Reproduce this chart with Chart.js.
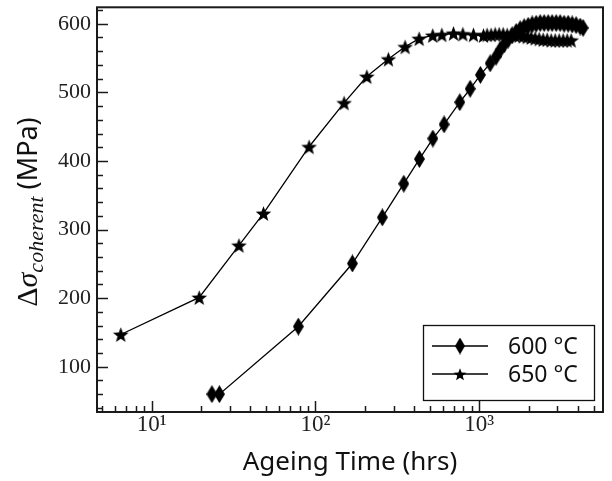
<!DOCTYPE html>
<html><head><meta charset="utf-8">
<script src="https://cdn.jsdelivr.net/npm/chart.js@4/dist/chart.umd.min.js"></script>
<style>html,body{margin:0;padding:0;background:#fff;}#wrap{width:612px;height:481px;}</style>
</head><body><div id="wrap"><canvas id="c" width="612" height="481"></canvas></div>
<script>
// ---- data ----
const seriesLabels = ['600 °C', '650 °C'];
const time600 = [23.3, 25.9, 78.6, 168, 256, 346, 431, 521, 610, 761, 880, 1017, 1166, 1268, 1342, 1420, 1502, 1589, 1681, 1778, 1881, 1990, 2104, 2226, 2355, 2491, 2635, 2787, 2949, 3119, 3299, 3491, 3693, 3906, 4133, 4310];
const stress600 = [60, 60, 158.6, 250.5, 317.7, 366.8, 402.8, 432.7, 453.3, 485.6, 505.2, 525.4, 542.3, 552, 562, 570, 577, 583, 588, 592, 595, 597, 599, 600, 601, 601, 601, 601, 601, 601, 600, 600, 599, 598, 596, 594];
const time650 = [6.47, 19.5, 34.1, 48.1, 91.4, 149.5, 205.8, 278.9, 352.6, 429.5, 520, 591, 696, 794, 922, 1061, 1117, 1182, 1251, 1323, 1400, 1481, 1566, 1657, 1753, 1854, 1962, 2075, 2195, 2322, 2457, 2599, 2749, 2908, 3076, 3254, 3443, 3642];
const stress650 = [147, 201, 277, 323.5, 420.7, 484.6, 523.1, 548.5, 566.4, 578.4, 583, 584, 586, 585, 584, 583, 584, 584, 585, 585, 585, 584, 584, 583, 583, 582, 581, 580, 579, 578, 577, 577, 576, 576, 576, 576, 576, 576];
const yTickValues = [100, 200, 300, 400, 500, 600];
const xTickValues = [10, 100, 1000];
const xTickLabels = ['10¹', '10²', '10³'];
const xLabel = 'Ageing Time (hrs)';
const yLabelMain = ['Δ', 'σ'];
const yLabelSub = 'coherent';
const yLabelUnit = '(MPa)';

// ---- marker images ----
function diamondImg(w, h) {
  const c = document.createElement('canvas'); c.width = w; c.height = h;
  const g = c.getContext('2d'); g.fillStyle = '#000';
  g.beginPath(); g.moveTo(w/2, 0); g.lineTo(w, h/2); g.lineTo(w/2, h); g.lineTo(0, h/2); g.closePath(); g.fill();
  return c;
}
function starImg(s) {
  const c = document.createElement('canvas'); c.width = s; c.height = s;
  const g = c.getContext('2d'); g.fillStyle = '#000';
  const R = s/2 - 0.3, r = R * 0.42, cx = s/2, cy = s/2 + 0.9;
  g.beginPath();
  for (let i = 0; i < 10; i++) {
    const a = -Math.PI/2 + i * Math.PI/5, rr = i % 2 ? r : R;
    const px = cx + rr * Math.cos(a), py = cy + rr * Math.sin(a);
    i ? g.lineTo(px, py) : g.moveTo(px, py);
  }
  g.closePath(); g.fill();
  return c;
}
const diamond = diamondImg(11, 18);
const star = starImg(17);
const legDiamond = diamondImg(10, 17);
const legStar = starImg(14);

const tickFont = { family: '"Liberation Serif", serif', size: 22 };

const overlay = {
  id: 'overlay',
  afterDatasetsDraw(chart) {
    const { ctx, chartArea: a, scales: { x, y } } = chart;
    ctx.save();
    ctx.strokeStyle = '#1a1a1a';
    ctx.lineWidth = 1.5;
    // inward y ticks
    for (let v = Math.ceil(y.min / 20) * 20; v <= y.max; v += 20) {
      const py = Math.round(y.getPixelForValue(v)) + 0.5;
      const len = yTickValues.includes(v) ? 11 : 6;
      ctx.beginPath(); ctx.moveTo(a.left, py); ctx.lineTo(a.left + len, py); ctx.stroke();
    }
    // inward x ticks (log)
    for (let d = 1; d <= 1000; d *= 10) {
      for (let m = 1; m <= 9; m++) {
        const v = m * d;
        if (v < x.min || v > x.max) continue;
        const px = Math.round(x.getPixelForValue(v)) + 0.5;
        const len = m === 1 ? 11 : 6;
        ctx.beginPath(); ctx.moveTo(px, a.bottom); ctx.lineTo(px, a.bottom - len); ctx.stroke();
      }
    }
    // frame
    ctx.lineWidth = 2;
    ctx.strokeRect(a.left, a.top, a.right - a.left, a.bottom - a.top);

    // legend
    const bx = 423.5, by = 325.5, bw = 171, bh = 75;
    ctx.fillStyle = '#fff'; ctx.fillRect(bx, by, bw, bh);
    ctx.lineWidth = 1.3; ctx.strokeStyle = '#111'; ctx.strokeRect(bx, by, bw, bh);
    const rows = [346, 374];
    const imgs = [legDiamond, legStar];
    ctx.font = '23px "Noto Sans", sans-serif';
    ctx.textBaseline = 'alphabetic'; ctx.textAlign = 'left';
    rows.forEach((ry, i) => {
      ctx.strokeStyle = '#000'; ctx.lineWidth = 1.3;
      ctx.beginPath(); ctx.moveTo(432, ry); ctx.lineTo(488, ry); ctx.stroke();
      const im = imgs[i];
      ctx.drawImage(im, 460 - im.width/2, ry - im.height/2);
      ctx.fillStyle = '#111';
      ctx.fillText(chart.data.datasets[i].label, 508, ry + 8);
    });

    // y-axis label with subscript
    ctx.translate(37, 212);
    ctx.rotate(-Math.PI/2);
    const parts = [
      { t: yLabelMain[0], f: '30px "Liberation Serif", serif', dy: 0 },
      { t: yLabelMain[1], f: 'italic 30px "Liberation Serif", serif', dy: 0 },
      { t: yLabelSub, f: 'italic 22px "Liberation Serif", serif', dy: 6 },
      { t: ' ', f: '27px "Noto Sans", sans-serif', dy: 0 },
      { t: yLabelUnit, f: '27px "Noto Sans", sans-serif', dy: 0 }
    ];
    let total = 0;
    parts.forEach(p => { ctx.font = p.f; p.w = ctx.measureText(p.t).width; total += p.w; });
    let tx = -total / 2;
    ctx.fillStyle = '#111';
    parts.forEach(p => { ctx.font = p.f; ctx.fillText(p.t, tx, p.dy); tx += p.w; });
    ctx.restore();
  }
};

new Chart(document.getElementById('c'), {
  type: 'scatter',
  data: {
    datasets: [
      { label: seriesLabels[0], data: time600.map((t, i) => ({ x: t, y: stress600[i] })),
        showLine: true, borderColor: '#000', borderWidth: 1.3, pointStyle: diamond, pointRadius: 6, tension: 0 },
      { label: seriesLabels[1], data: time650.map((t, i) => ({ x: t, y: stress650[i] })),
        showLine: true, borderColor: '#000', borderWidth: 1.3, pointStyle: star, pointRadius: 6, tension: 0 }
    ]
  },
  options: {
    responsive: false, animation: false, devicePixelRatio: 1,
    layout: { padding: { left: 0, top: 2, right: 9, bottom: 0 } },
    plugins: { legend: { display: false }, tooltip: { enabled: false } },
    scales: {
      x: {
        type: 'logarithmic', min: 4.63, max: 5700,
        grid: { display: false, drawTicks: false }, border: { display: false },
        afterBuildTicks: s => { s.ticks = xTickValues.map(v => ({ value: v })); },
        afterFit: s => { s.height = 69; s.paddingLeft = 0; s.paddingRight = 0; },
        ticks: { font: { family: '"Liberation Serif", serif', size: 23 }, color: '#222', padding: -1, autoSkip: false, maxRotation: 0,
          callback: v => { const i = xTickValues.indexOf(v); return i >= 0 ? xTickLabels[i] : ''; } },
        title: { display: true, text: xLabel, color: '#111',
          font: { family: '"Noto Sans", sans-serif', size: 26 }, padding: { top: 0, bottom: 3 } }
      },
      y: {
        min: 34, max: 624,
        grid: { display: false, drawTicks: false }, border: { display: false },
        afterBuildTicks: s => { s.ticks = yTickValues.map(v => ({ value: v })); },
        afterFit: s => { s.width = 97; s.paddingTop = 0; s.paddingBottom = 0; },
        ticks: { font: tickFont, color: '#222', padding: 6 }
      }
    }
  },
  plugins: [overlay]
});
</script>
</body></html>
